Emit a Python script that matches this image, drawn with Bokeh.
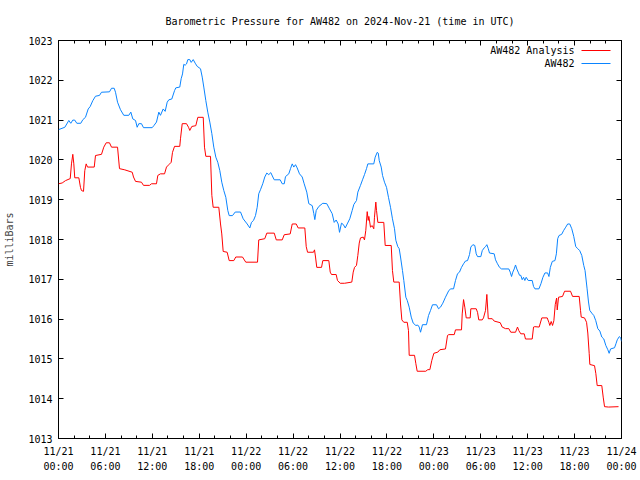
from bokeh.plotting import figure
from bokeh.models import FixedTicker, LinearAxis, Range1d, Label, BoxAnnotation, CustomJSTickFormatter
from bokeh.embed import file_html
from bokeh.resources import INLINE

# ---------------- data (hours since 2024-11-21 00:00 UTC, millibars) ----------------
aw482_hours = [0.0, 0.81, 1.32, 1.57, 1.83, 2.08, 2.34, 2.85, 3.11, 3.45, 3.80, 4.05, 4.39, 4.73,
               5.24, 5.50, 6.52, 6.78, 7.12, 7.29, 7.55, 7.93, 8.35, 8.99, 9.25, 9.50, 9.85, 10.06,
               10.27, 10.61, 10.87, 11.98, 12.19, 12.53, 12.83, 13.04, 13.39, 13.64, 13.90, 14.11,
               14.49, 14.84, 15.00, 15.51, 15.69, 15.86, 16.02, 16.20, 16.37, 16.54, 16.79, 16.97,
               17.23, 17.48, 17.74, 18.16, 18.38, 18.58, 18.84, 19.09, 19.35, 19.61, 19.86, 20.12,
               20.37, 20.63, 20.88, 21.14, 21.40, 21.65, 21.83, 22.25, 22.60, 23.28, 23.62, 24.13,
               24.47, 24.68, 24.94, 25.19, 25.41, 25.61, 25.83, 26.12, 26.38, 26.64, 26.89, 27.15,
               27.41, 27.59, 28.35, 28.61, 28.87, 29.03, 29.45, 29.67, 29.89, 30.09, 30.31, 30.52,
               30.82, 31.17, 31.42, 31.75, 32.01, 32.45, 32.65, 32.78, 32.96, 33.29, 33.80, 34.31,
               34.66, 35.00, 35.26, 35.51, 35.77, 35.94, 36.19, 36.41, 36.67, 36.92, 37.25, 37.56,
               37.77, 38.11, 38.28, 38.62, 38.88, 39.13, 39.39, 39.56, 40.32, 40.50, 40.76, 40.89,
               41.02, 41.27, 41.44, 41.69, 41.95, 42.20, 42.46, 42.71, 42.97, 43.14, 43.39, 43.57,
               43.74, 43.99, 44.16, 44.42, 44.60, 44.85, 45.11, 45.36, 45.70, 45.95, 46.13, 46.30,
               46.55, 47.06, 47.32, 47.58, 47.83, 48.34, 48.60, 48.85, 49.15, 49.49, 49.92, 50.17,
               50.52, 50.77, 51.03, 51.28, 51.54, 51.80, 52.05, 52.31, 52.56, 52.73, 52.99, 53.24,
               53.42, 53.59, 54.01, 54.19, 54.44, 54.61, 54.78, 54.96, 55.12, 55.72, 55.89, 56.14,
               56.40, 56.66, 57.59, 57.77, 57.94, 58.10, 58.28, 58.45, 58.61, 58.79, 58.96, 59.12,
               59.30, 59.47, 59.64, 59.81, 60.07, 60.58, 60.75, 60.93, 61.44, 61.70, 61.95, 62.21,
               62.55, 62.72, 62.90, 63.15, 63.49, 63.67, 63.84, 64.01, 64.35, 64.61, 64.87, 65.12,
               65.38, 65.64, 65.89, 66.15, 66.41, 66.66, 66.92, 67.17, 67.34, 67.60, 67.78, 67.94,
               68.20, 68.46, 68.71, 68.97, 69.23, 69.48, 69.74, 69.99, 70.25, 70.42, 70.60, 71.11,
               71.29, 71.46, 71.72, 71.90, 72.0]
aw482_mb = [1020.76, 1020.82, 1020.99, 1020.92, 1021.00, 1021.00, 1020.92, 1020.92, 1021.01, 1021.07,
            1021.28, 1021.34, 1021.49, 1021.60, 1021.62, 1021.70, 1021.71, 1021.80, 1021.80, 1021.70,
            1021.45, 1021.26, 1021.12, 1021.12, 1021.20, 1021.03, 1020.99, 1020.82, 1020.91, 1020.91,
            1020.81, 1020.81, 1020.86, 1020.95, 1021.20, 1021.12, 1021.28, 1021.22, 1021.45, 1021.51,
            1021.53, 1021.74, 1021.81, 1021.83, 1022.04, 1022.16, 1022.40, 1022.38, 1022.41, 1022.52,
            1022.52, 1022.45, 1022.52, 1022.43, 1022.35, 1022.29, 1022.08, 1021.83, 1021.49, 1021.20,
            1020.95, 1020.66, 1020.32, 1020.07, 1019.94, 1019.73, 1019.44, 1019.23, 1019.06, 1018.73,
            1018.60, 1018.60, 1018.69, 1018.69, 1018.52, 1018.39, 1018.29, 1018.43, 1018.48, 1018.60,
            1018.81, 1019.15, 1019.25, 1019.40, 1019.57, 1019.67, 1019.63, 1019.68, 1019.57, 1019.50,
            1019.50, 1019.40, 1019.40, 1019.58, 1019.65, 1019.78, 1019.90, 1019.82, 1019.88, 1019.80,
            1019.65, 1019.57, 1019.40, 1019.19, 1018.90, 1018.85, 1018.65, 1018.50, 1018.73, 1018.83,
            1018.91, 1018.90, 1018.77, 1018.65, 1018.43, 1018.49, 1018.39, 1018.18, 1018.41, 1018.38,
            1018.29, 1018.39, 1018.52, 1018.73, 1018.88, 1018.98, 1019.19, 1019.36, 1019.50, 1019.63,
            1019.78, 1019.90, 1019.90, 1020.07, 1020.19, 1020.17, 1019.98, 1019.82, 1019.61, 1019.44,
            1019.31, 1019.06, 1018.81, 1018.52, 1018.27, 1017.98, 1017.82, 1017.77, 1017.56, 1017.22,
            1016.97, 1016.55, 1016.47, 1016.30, 1016.05, 1015.90, 1015.84, 1015.85, 1015.80, 1015.67,
            1015.86, 1015.86, 1016.09, 1016.22, 1016.36, 1016.36, 1016.26, 1016.30, 1016.40, 1016.55,
            1016.72, 1016.76, 1016.76, 1016.97, 1017.14, 1017.18, 1017.30, 1017.39, 1017.46, 1017.47,
            1017.62, 1017.81, 1017.87, 1017.85, 1017.64, 1017.57, 1017.57, 1017.72, 1017.79, 1017.82,
            1017.87, 1017.77, 1017.66, 1017.64, 1017.49, 1017.39, 1017.30, 1017.26, 1017.26, 1017.18,
            1017.07, 1017.18, 1017.26, 1017.36, 1017.26, 1017.18, 1017.10, 1017.10, 1016.99, 1017.05,
            1016.97, 1017.05, 1016.97, 1016.97, 1016.82, 1016.76, 1016.76, 1016.89, 1017.05, 1017.16,
            1017.16, 1017.07, 1017.30, 1017.45, 1017.47, 1017.64, 1018.02, 1018.10, 1018.13, 1018.23,
            1018.31, 1018.39, 1018.39, 1018.27, 1018.08, 1017.82, 1017.77, 1017.72, 1017.60, 1017.35,
            1017.22, 1016.76, 1016.43, 1016.22, 1016.15, 1016.09, 1015.96, 1015.76, 1015.70, 1015.55,
            1015.50, 1015.34, 1015.23, 1015.14, 1015.25, 1015.28, 1015.38, 1015.48, 1015.56, 1015.53,
            1015.44]

analysis_hours = [0.0, 0.47, 0.90, 1.50, 1.66, 1.83, 1.96, 2.08, 2.60, 2.81, 2.94, 3.20, 3.36, 3.54,
                  3.71, 4.57, 4.73, 5.50, 5.79, 6.10, 6.52, 6.78, 7.55, 7.80, 8.48, 9.43, 9.59, 9.85,
                  10.61, 10.87, 11.64, 11.89, 12.53, 12.70, 13.04, 13.56, 13.81, 14.11, 14.41, 14.58,
                  14.84, 15.51, 15.60, 15.82, 16.37, 16.63, 16.79, 17.05, 17.56, 17.82, 18.51, 18.67,
                  18.84, 19.44, 19.61, 19.78, 20.50, 20.72, 20.88, 21.06, 21.57, 21.83, 22.42, 22.67,
                  23.53, 23.95, 25.45, 25.61, 26.38, 26.64, 27.59, 27.85, 28.61, 28.87, 29.63, 29.89,
                  30.40, 30.65, 31.50, 31.68, 31.85, 32.61, 32.74, 32.87, 33.03, 33.64, 33.80, 34.57,
                  34.75, 34.91, 35.51, 35.68, 36.03, 36.58, 37.51, 37.69, 37.86, 38.11, 38.28, 38.46,
                  38.62, 38.97, 39.13, 39.30, 39.48, 39.61, 39.69, 39.90, 40.12, 40.32, 40.41, 40.58,
                  40.67, 40.84, 41.60, 41.78, 42.55, 42.71, 42.88, 43.57, 43.74, 43.91, 44.16, 44.60,
                  44.76, 44.85, 45.53, 45.70, 45.87, 46.97, 47.23, 47.49, 47.74, 48.00, 48.51, 48.77,
                  49.49, 49.75, 49.92, 50.61, 50.77, 51.54, 51.63, 51.80, 51.96, 52.14, 52.65, 52.73,
                  53.42, 53.59, 53.75, 54.19, 54.35, 54.61, 54.78, 54.96, 55.47, 55.72, 56.49, 56.74,
                  57.17, 57.59, 57.84, 58.45, 58.70, 58.87, 59.12, 59.56, 59.72, 60.58, 60.75, 60.91,
                  61.47, 61.81, 62.50, 62.71, 62.83, 63.01, 63.18, 63.35, 63.53, 63.70, 63.78, 63.95,
                  64.46, 64.72, 65.48, 65.74, 66.59, 66.76, 66.85, 67.27, 67.53, 67.69, 67.87, 67.95,
                  68.55, 68.72, 68.89, 69.48, 69.66, 69.83, 70.34, 71.62]
analysis_mb = [1019.40, 1019.42, 1019.48, 1019.53, 1019.90, 1020.14, 1019.90, 1019.55, 1019.55, 1019.31,
               1019.23, 1019.21, 1019.73, 1019.90, 1019.82, 1019.82, 1020.11, 1020.14, 1020.32, 1020.43,
               1020.43, 1020.32, 1020.32, 1019.78, 1019.75, 1019.69, 1019.57, 1019.46, 1019.44, 1019.36,
               1019.36, 1019.40, 1019.40, 1019.61, 1019.65, 1019.65, 1019.82, 1019.88, 1019.94, 1020.19,
               1020.34, 1020.34, 1020.53, 1020.91, 1020.91, 1020.82, 1020.74, 1020.84, 1020.86, 1021.07,
               1021.07, 1020.32, 1020.09, 1020.09, 1019.11, 1018.81, 1018.81, 1018.39, 1018.14, 1017.70,
               1017.68, 1017.47, 1017.47, 1017.56, 1017.56, 1017.43, 1017.43, 1017.99, 1018.02, 1018.16,
               1018.16, 1017.99, 1017.99, 1018.12, 1018.14, 1018.39, 1018.39, 1018.29, 1018.29, 1017.82,
               1017.68, 1017.68, 1017.74, 1017.56, 1017.30, 1017.30, 1017.47, 1017.47, 1017.18, 1017.12,
               1017.12, 1016.97, 1016.90, 1016.90, 1016.93, 1017.18, 1017.30, 1017.35, 1017.60, 1017.91,
               1018.04, 1018.06, 1017.99, 1018.23, 1018.70, 1018.48, 1018.58, 1018.31, 1018.35, 1018.27,
               1018.56, 1018.94, 1018.73, 1018.43, 1018.43, 1017.85, 1017.85, 1017.22, 1016.93, 1016.93,
               1016.38, 1015.98, 1015.92, 1015.92, 1015.71, 1015.09, 1015.09, 1014.88, 1014.69, 1014.69,
               1014.73, 1014.73, 1014.96, 1015.14, 1015.17, 1015.23, 1015.25, 1015.59, 1015.61, 1015.61,
               1015.73, 1015.73, 1016.13, 1016.49, 1016.30, 1016.03, 1016.03, 1016.26, 1016.26, 1016.17,
               1015.98, 1015.98, 1016.03, 1016.22, 1016.62, 1016.01, 1016.01, 1015.95, 1015.91, 1015.80,
               1015.76, 1015.76, 1015.67, 1015.67, 1015.80, 1015.71, 1015.63, 1015.63, 1015.50, 1015.50,
               1015.80, 1015.81, 1015.80, 1016.03, 1016.03, 1015.92, 1015.84, 1015.94, 1015.84, 1015.96,
               1016.37, 1016.53, 1016.23, 1016.55, 1016.57, 1016.70, 1016.70, 1016.57, 1016.57, 1016.22,
               1016.05, 1016.03, 1015.92, 1015.65, 1015.13, 1014.86, 1014.83, 1014.63, 1014.33, 1014.33,
               1014.04, 1013.80, 1013.79, 1013.80]

x_tick_hours = [0, 6, 12, 18, 24, 30, 36, 42, 48, 54, 60, 66, 72]
x_tick_labels = ["11/21\n00:00", "11/21\n06:00", "11/21\n12:00", "11/21\n18:00",
                 "11/22\n00:00", "11/22\n06:00", "11/22\n12:00", "11/22\n18:00",
                 "11/23\n00:00", "11/23\n06:00", "11/23\n12:00", "11/23\n18:00",
                 "11/24\n00:00"]
x_minor_hours = list(range(0, 73, 2))
y_ticks = list(range(1013, 1024))

series_names = ["AW482 Analysis", "AW482"]
series_colors = ["#ff0000", "#0a84ff"]
title_text = "Barometric Pressure for AW482 on 2024-Nov-21 (time in UTC)"

FONT = "DejaVu Sans Mono"
FS = "10px"

p = figure(width=640, height=480, x_range=Range1d(0, 72), y_range=Range1d(1013, 1023),
           output_backend="svg", toolbar_location=None,
           min_border_left=58, min_border_right=19, min_border_top=40, min_border_bottom=42,
           title=title_text)

p.title.align = "center"
p.title.text_font = FONT
p.title.text_font_size = FS
p.title.text_font_style = "normal"
p.title.text_color = "black"
p.title.standoff = 27

p.xgrid.visible = False
p.ygrid.visible = False
p.outline_line_color = "black"
p.outline_line_alpha = 1.0
p.outline_line_width = 1
p.background_fill_color = "white"
p.border_fill_color = "white"

p.line(analysis_hours, analysis_mb, line_color=series_colors[0], line_width=1)
p.line(aw482_hours, aw482_mb, line_color=series_colors[1], line_width=1)

xt = FixedTicker(ticks=x_tick_hours, minor_ticks=x_minor_hours)
yt = FixedTicker(ticks=y_ticks, minor_ticks=[])


def style_axis(ax, labels=True):
    ax.axis_line_color = None
    ax.major_tick_in = 5
    ax.major_tick_out = 0
    ax.minor_tick_in = 3
    ax.minor_tick_out = 0
    ax.major_tick_line_color = "black"
    ax.minor_tick_line_color = "black"
    ax.major_label_text_font = FONT
    ax.major_label_text_font_size = FS
    ax.major_label_text_color = "black"
    if not labels:
        ax.formatter = CustomJSTickFormatter(code="return ''")
        ax.major_label_standoff = 0


xa = p.xaxis[0]
xa.ticker = xt
xa.major_label_overrides = {h: lab for h, lab in zip(x_tick_hours, x_tick_labels)}
style_axis(xa)
xa.major_label_standoff = 7
xa.major_label_text_line_height = 1.4

ya = p.yaxis[0]
ya.ticker = yt
style_axis(ya)
ya.major_label_standoff = 6
ya.axis_label = "milliBars"
ya.axis_label_text_font = FONT
ya.axis_label_text_font_size = FS
ya.axis_label_text_font_style = "normal"
ya.axis_label_standoff = 10

top = LinearAxis(ticker=xt)
style_axis(top, labels=False)
p.add_layout(top, "above")
right = LinearAxis(ticker=yt)
style_axis(right, labels=False)
p.add_layout(right, "right")

# legend (text left of the sample line, as in the reference)
for i, (name, col) in enumerate(zip(series_names, series_colors)):
    yy = 388 - 13 * i
    p.add_layout(Label(x=516, y=yy, x_units="screen", y_units="screen", text=name,
                       text_align="right", text_baseline="middle", text_font=FONT,
                       text_font_size=FS, text_color="black"))
    p.add_layout(BoxAnnotation(left=523, right=552, bottom=yy - 0.5, top=yy + 0.5,
                               left_units="screen", right_units="screen",
                               bottom_units="screen", top_units="screen",
                               fill_color=col, fill_alpha=1.0, line_color=None))

open("out.html", "w").write(file_html(p, INLINE))
